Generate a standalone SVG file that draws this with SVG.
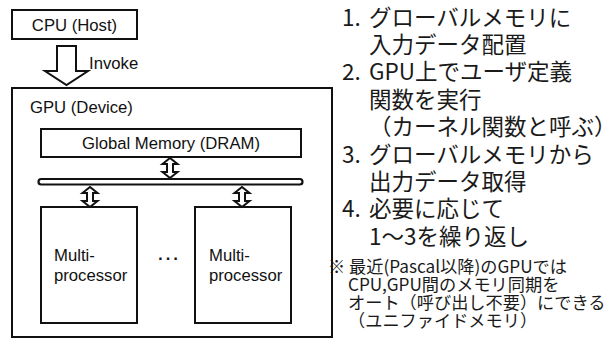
<svg xmlns="http://www.w3.org/2000/svg" width="615" height="341" viewBox="0 0 615 341">
  <style>
    .box { fill: #fff; stroke: #111; stroke-width: 2; }
    .arrow { fill: #fff; stroke: #111; stroke-width: 2; stroke-linejoin: miter; }
    .lbl { font-family: "Liberation Sans", Arial, sans-serif; font-size: 16.7px; fill: #111; }
    .dots { font-family: "Liberation Sans", Arial, sans-serif; font-size: 24px; fill: #111; }
    .jp { font-family: "Noto Sans CJK JP", "Noto Sans", sans-serif; font-size: 22.5px; fill: #1a1a1a; }
    .note { font-family: "Noto Sans CJK JP", "Noto Sans", sans-serif; font-size: 17.2px; fill: #1a1a1a; }
  </style>

  <rect width="615" height="341" fill="#fff"/>

  <!-- host -->
  <g id="cpu">
    <rect class="box" x="12" y="10" width="125" height="29"/>
    <text class="lbl" x="74.5" y="31" text-anchor="middle">CPU (Host)</text>
  </g>

  <!-- device container -->
  <g id="gpu">
    <rect class="box" x="12" y="88" width="320" height="249"/>
    <text class="lbl" x="30" y="113">GPU (Device)</text>
  </g>

  <g id="global-memory">
    <rect class="box" x="41" y="129" width="260" height="28"/>
    <text class="lbl" x="171" y="149" text-anchor="middle">Global Memory (DRAM)</text>
  </g>

  <g id="bus">
    <rect x="38.5" y="179" width="264" height="5.5" rx="2.75" fill="#fff" stroke="#111" stroke-width="2.2"/>
  </g>

  <g id="mp1">
    <rect class="box" x="41" y="207" width="96" height="116"/>
    <text class="lbl" x="54" y="261">Multi-</text>
    <text class="lbl" x="54" y="281">processor</text>
  </g>

  <g id="ellipsis">
    <text class="dots" x="156" y="260">…</text>
  </g>

  <g id="mp2">
    <rect class="box" x="195" y="207" width="96" height="116"/>
    <text class="lbl" x="209" y="261">Multi-</text>
    <text class="lbl" x="209" y="281">processor</text>
  </g>

  <!-- connectors -->
  <g id="connectors">
    <!-- invoke: hollow down arrow -->
    <polygon class="arrow" points="57,46 76,46 76,71 88,71 66.5,85 45,71 57,71"/>
    <text class="lbl" x="89" y="69">Invoke</text>
    <!-- memory <-> bus -->
    <polygon class="arrow" points="170,158 177.5,164 173,164 173,172 177.5,172 170,178 162.5,172 167,172 167,164 162.5,164"/>
    <!-- bus <-> multiprocessors -->
    <polygon class="arrow" points="90,187 97.5,193 93,193 93,201 97.5,201 90,207 82.5,201 87,201 87,193 82.5,193"/>
    <polygon class="arrow" points="242,187 249.5,193 245,193 245,201 249.5,201 242,207 234.5,201 239,201 239,193 234.5,193"/>
  </g>

  <!-- processing steps -->
  <g id="steps">
    <text class="jp" y="25.5"><tspan x="342">1.</tspan><tspan x="369">グローバルメモリに</tspan></text>
    <text class="jp" x="369" y="52.9">入力データ配置</text>
    <text class="jp" y="80.3"><tspan x="342">2.</tspan><tspan x="369">GPU上でユーザ定義</tspan></text>
    <text class="jp" x="369" y="107.7">関数を実行</text>
    <text class="jp" x="369" y="135.1">（カーネル関数と呼ぶ）</text>
    <text class="jp" y="162.5"><tspan x="342">3.</tspan><tspan x="369">グローバルメモリから</tspan></text>
    <text class="jp" x="369" y="189.9">出力データ取得</text>
    <text class="jp" y="217.3"><tspan x="342">4.</tspan><tspan x="369">必要に応じて</tspan></text>
    <text class="jp" x="369" y="244.7">1〜3を繰り返し</text>
  </g>

  <g id="note">
    <text class="note" y="273"><tspan x="328">※</tspan><tspan x="349">最近(Pascal以降)のGPUでは</tspan></text>
    <text class="note" x="348" y="291">CPU,GPU間のメモリ同期を</text>
    <text class="note" x="348" y="309">オート（呼び出し不要）にできる</text>
    <text class="note" x="348" y="327">（ユニファイドメモリ）</text>
  </g>
</svg>
